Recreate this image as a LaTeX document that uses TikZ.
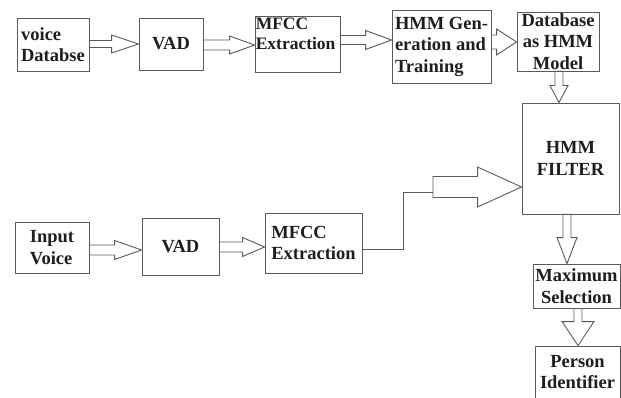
\documentclass[tikz,border=0pt]{standalone}
\usepackage{fontspec}
\setmainfont{Liberation Serif}
\usetikzlibrary{calc}
\definecolor{edge}{HTML}{5A5A5A}
\definecolor{ink}{HTML}{1E1E1E}
\newcommand{\fatarrow}[5]{%
  \path ($(#2)!#5!(#1)$) coordinate (fah);
  \draw[fat] ($(#1)!#3!90:(#2)$) -- ($(fah)!#3!90:(#2)$) -- ($(fah)!#4!90:(#2)$) -- (#2)
    -- ($(fah)!#4!-90:(#2)$) -- ($(fah)!#3!-90:(#2)$) -- ($(#1)!#3!-90:(#2)$) -- cycle;}
\begin{document}
\begin{tikzpicture}[x=1pt,y=-1pt,
  box/.style={draw=edge, line width=0.9pt, inner sep=0pt, align=center,
    text=ink, font=\bfseries\fontsize{18.5}{21.5}\selectfont},
  lbox/.style={box, align=left},
  fat/.style={draw=edge, line width=0.9pt, fill=white, line join=miter},
  conn/.style={draw=edge, line width=0.9pt}]
\clip (0,0) rectangle (621,398);
\fill[white] (0,0) rectangle (621,398);
% top row
\node[lbox, minimum width=72pt, minimum height=53pt] (vdb) at (53,44.5) {voice\\Databse};
\node[box, minimum width=64pt, minimum height=52pt] (vad1) at (171,44) {VAD};
\node[box, minimum width=85pt, minimum height=56pt,
  label={[anchor=north west, align=left, inner sep=0pt, text=ink,
  font=\bfseries\fontsize{17.5}{20}\selectfont, xshift=1pt, yshift=-2pt]north west:MFCC\\Extraction}] (mfcc1) at (297.5,44) {};
\node[lbox, minimum width=99pt, minimum height=73pt] (hmmgen) at (441.5,46.5) {HMM Gen-\\eration and\\Training};
\node[box, minimum width=82pt, minimum height=59pt] (db) at (558,41.5) {Database\\as HMM\\Model};
% right column
\node[box, minimum width=97pt, minimum height=111pt] (filter) at (570.5,158.5) {HMM\\FILTER};
\node[box, minimum width=87pt, minimum height=44pt] (max) at (576.5,286) {Maximum\\Selection};
\node[box, minimum width=85pt, minimum height=52pt] (person) at (577.5,372) {Person\\Identifier};
% bottom row
\node[lbox, minimum width=74pt, minimum height=51pt] (input) at (52,247.5) {Input\\Voice};
\node[box, minimum width=77pt, minimum height=57pt] (vad2) at (180.5,246.5) {VAD};
\node[lbox, minimum width=97pt, minimum height=60pt] (mfcc2) at (313.5,243) {MFCC\\Extraction};
% arrow end points
\coordinate (a1s) at (vdb.east |- 0,44);    \coordinate (a1e) at (vad1.west |- 0,44);
\coordinate (a2s) at (vad1.east |- 0,45);   \coordinate (a2e) at (mfcc1.west |- 0,45);
\coordinate (a3s) at (mfcc1.east |- 0,40);  \coordinate (a3e) at (hmmgen.west |- 0,40);
\coordinate (a4s) at (hmmgen.east |- 0,42); \coordinate (a4e) at (db.west |- 0,42);
\coordinate (a5s) at (db.south -| 559,0);   \coordinate (a5e) at (filter.north -| 559,0);
\coordinate (a6s) at (filter.south -| 567,0); \coordinate (a6e) at (max.north -| 567,0);
\coordinate (a7s) at (max.south -| 578,0);  \coordinate (a7e) at (person.north -| 578,0);
\coordinate (a8s) at (input.east |- 0,250); \coordinate (a8e) at (vad2.west |- 0,250);
\coordinate (a9s) at (vad2.east |- 0,247);  \coordinate (a9e) at (mfcc2.west |- 0,247);
\coordinate (j1) at (433,192);
\coordinate (a10s) at (433,187);            \coordinate (a10e) at (filter.west |- 0,187);
% connectors
\fatarrow{a1s}{a1e}{3.5pt}{9pt}{27pt}
\fatarrow{a2s}{a2e}{5pt}{9pt}{25pt}
\fatarrow{a3s}{a3e}{4.5pt}{9.5pt}{26pt}
\fatarrow{a4s}{a4e}{7pt}{13pt}{20pt}
\fatarrow{a5s}{a5e}{4pt}{9pt}{17pt}
\fatarrow{a6s}{a6e}{4pt}{10pt}{26pt}
\fatarrow{a7s}{a7e}{4pt}{16pt}{24pt}
\fatarrow{a8s}{a8e}{5pt}{9.5pt}{27pt}
\fatarrow{a9s}{a9e}{5pt}{9.5pt}{22pt}
\draw[conn] (mfcc2.east |- 0,249) -| ($(j1)+(-30,0)$) -- (j1);
\fatarrow{a10s}{a10e}{10.5pt}{20pt}{44pt}
\end{tikzpicture}
\end{document}
